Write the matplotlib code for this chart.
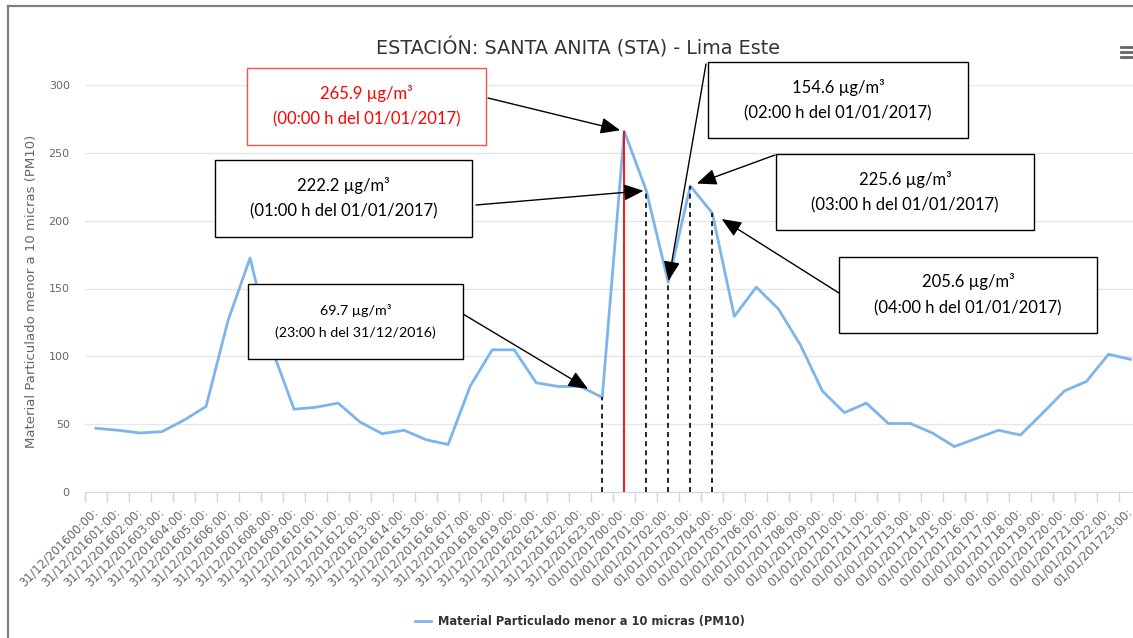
import matplotlib.pyplot as plt
from matplotlib.lines import Line2D
from matplotlib.patches import Rectangle

W, H = 1133, 638

days = ['31/12/2016', '01/01/2017']
hours = ['00', '01', '02', '03', '04', '05', '06', '07', '08', '09', '10', '11',
         '12', '13', '14', '15', '16', '17', '18', '19', '20', '21', '22', '23']
tick_labels = [f'{d}{h}:00:' for d in days for h in hours]

pm10 = [47.0, 45.5, 43.5, 44.5, 53.0, 63.0, 126.5, 172.5, 105.0, 61.0, 62.5, 65.5,
        51.5, 43.0, 45.5, 38.5, 35.0, 78.0, 104.8, 104.8, 80.5, 77.8, 77.8, 69.7,
        265.9, 222.2, 154.6, 225.6, 205.6, 129.5, 151.0, 135.0, 108.5, 74.5, 58.5, 65.5,
        50.5, 50.5, 43.5, 33.5, 39.5, 45.5, 42.0, 58.0, 74.5, 81.5, 101.5, 97.8]

title = 'ESTACIÓN: SANTA ANITA (STA) - Lima Este'
y_label = 'Material Particulado menor a 10 micras (PM10)'
series_name = 'Material Particulado menor a 10 micras (PM10)'

# callouts: index of the point and the time it refers to
callout_idx = [24, 25, 26, 27, 28, 23]
callout_time = ['00:00 h del 01/01/2017', '01:00 h del 01/01/2017', '02:00 h del 01/01/2017',
                '03:00 h del 01/01/2017', '04:00 h del 01/01/2017', '23:00 h del 31/12/2016']


def px(x, y):
    return x / W, 1 - y / H


fig = plt.figure(figsize=(W / 100, H / 100), dpi=100)
ax = fig.add_axes([85 / W, 1 - 492 / H, 1056.5 / W, 407 / H])

x = list(range(len(pm10)))
ax.plot(x, pm10, color='#7cb5ec', lw=2, solid_joinstyle='round', zorder=3)

dashed = [23, 25, 26, 27, 28]
ax.vlines(dashed, 0, [pm10[i] for i in dashed], color='black', lw=1.2,
          linestyles=(0, (3, 2.5)), zorder=4)
ax.vlines(24, 0, pm10[24], color='red', lw=1.3, zorder=4)

ax.set_xlim(-0.5, len(pm10) - 0.5)
ax.set_ylim(0, 300)
ax.set_yticks([0, 50, 100, 150, 200, 250, 300])
ax.grid(axis='y', color='#e6e6e6', lw=1)
ax.set_axisbelow(True)
for s in ['top', 'right', 'left']:
    ax.spines[s].set_visible(False)
ax.spines['bottom'].set_color('#ccd6eb')
ax.tick_params(axis='y', length=0, pad=11, labelsize=8, labelcolor='#666666')

ax.set_xticks(x)
ax.set_xticklabels(tick_labels, rotation=45, ha='right', va='center',
                   rotation_mode='anchor', fontsize=8.5, color='#666666')
ax.tick_params(axis='x', which='major', length=0, pad=13)
ax.set_xticks([i - 0.5 for i in range(len(pm10) + 1)], minor=True)
ax.tick_params(axis='x', which='minor', length=7, color='#ccd6eb', width=1)

fig.text(*px(578, 48), title, ha='center', va='center', fontsize=13.8, color='#333333')
fig.text(*px(32, 291), y_label, rotation=90, ha='center', va='center',
         fontsize=9.5, color='#666666')

# legend
fig.add_artist(Line2D([415 / W, 431 / W], [1 - 621 / H] * 2, color='#7cb5ec', lw=2))
fig.text(*px(438, 621), series_name, ha='left', va='center', fontsize=8.3,
         fontweight='bold', color='#333333')

# border and menu icon
fig.add_artist(Line2D([8 / W, 1], [1 - 6 / H] * 2, color='#808080', lw=1.6))
fig.add_artist(Line2D([8 / W] * 2, [0, 1 - 6 / H], color='#808080', lw=1.6))
for yy in [47, 52, 57]:
    fig.add_artist(Line2D([1121 / W, 1133 / W], [1 - yy / H] * 2, color='#666666', lw=2))

boxes = [(247, 68, 486, 145), (215, 160, 472, 237), (708, 62, 968, 138),
         (776, 154, 1034, 230), (839, 257, 1097, 333), (248, 284, 463, 359)]
tails = [(488, 98), (476, 205), (706, 64), (775, 155), (839, 293), (463, 314)]
shrinks = [3, 2, 1, 5, 8, 12]

for k, i in enumerate(callout_idx):
    l, t, r, b = boxes[k]
    col = 'red' if i == 24 else 'black'
    edge = '#ff5050' if i == 24 else 'black'
    size = 10.3 if i == 23 else 12
    fig.add_artist(Rectangle(px(l, b), (r - l) / W, (b - t) / H, transform=fig.transFigure,
                             facecolor='white', edgecolor=edge, lw=1, zorder=5))
    cx = (l + r) / 2
    mid = (t + b) / 2
    gap = 11 if i == 23 else 13
    fig.text(*px(cx, mid - gap), f'{pm10[i]:.1f} µg/m³', ha='center', va='center',
             fontsize=size, color=col, family='Lato', zorder=6)
    fig.text(*px(cx, mid + gap), f'({callout_time[k]})', ha='center', va='center',
             fontsize=size, color=col, family='Lato', zorder=6)
    ax.annotate('', xy=(i, pm10[i]), xycoords='data', xytext=px(*tails[k]),
                textcoords='figure fraction', annotation_clip=False,
                arrowprops=dict(arrowstyle='-|>,head_length=0.6,head_width=0.25',
                                color='black', lw=1, mutation_scale=20,
                                shrinkA=0, shrinkB=shrinks[k]), zorder=6)

fig.savefig('out.png', dpi=100)
